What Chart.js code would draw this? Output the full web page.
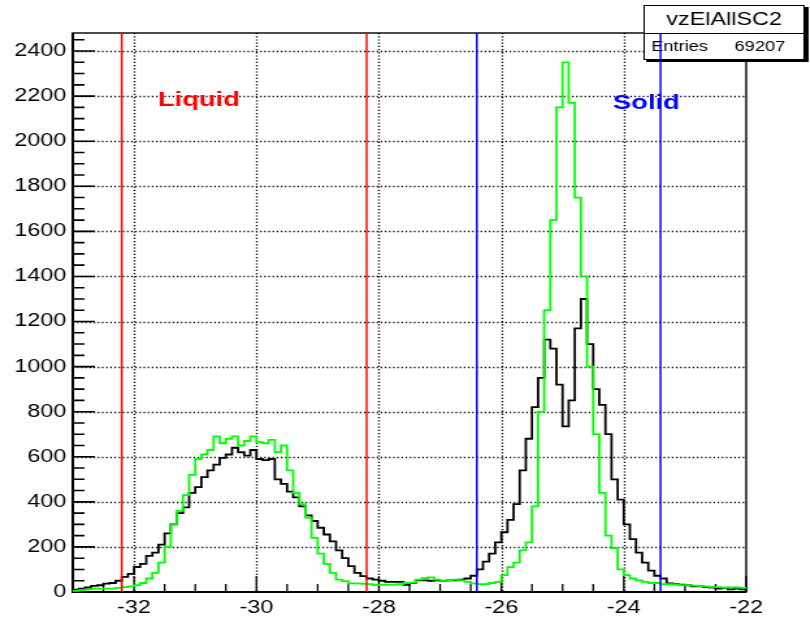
<!DOCTYPE html>
<html lang="en">
<head>
<meta charset="UTF-8">
<title>vzElAllSC2</title>
<script src="https://cdn.jsdelivr.net/npm/chart.js"></script>
<style>
    body { margin: 0; background: #fff; overflow: hidden; }
    /* the original ROOT canvas is stretched sideways, so draw it narrow and stretch it */
    #histo { display: block; transform: scaleX(1.3); transform-origin: 0 0; }
</style>
</head>
<body>
<canvas id="histo" width="623" height="620"></canvas>
<script>
    // histogram binning
    var binLow = -33.0;
    var binWidth = 0.1;

    // black histogram, one count per 0.1 bin from -33.0 to -22.0
    var blackCounts = [
        10, 15, 20, 27, 30, 37, 40, 50, 67, 80,
        111, 125, 160, 175, 210, 260, 300, 350, 375, 440,
        465, 510, 540, 565, 595, 610, 640, 620, 605, 630,
        590, 585, 590, 500, 480, 445, 420, 380, 340, 315,
        285, 255, 225, 185, 150, 115, 85, 70, 60, 55,
        50, 45, 45, 45, 32, 40, 52, 52, 50, 52,
        48, 52, 52, 55, 60, 72, 100, 135, 170, 220,
        265, 320, 390, 540, 680, 820, 950, 1120, 1080, 920,
        735, 850, 1170, 1300, 1100, 900, 830, 700, 500, 410,
        300, 235, 175, 130, 95, 72, 60, 38, 35, 33,
        30, 25, 25, 22, 20, 15, 18, 12, 15, 12
    ];

    // green histogram, same binning
    var greenCounts = [
        5, 8, 12, 15, 15, 15, 15, 18, 22, 25,
        30, 40, 60, 85, 130, 200, 300, 360, 430, 520,
        590, 610, 630, 690, 660, 680, 690, 650, 670, 690,
        665, 660, 675, 620, 650, 540, 440, 390, 330, 240,
        170, 125, 85, 55, 48, 38, 38, 36, 35, 32,
        32, 33, 33, 35, 40, 42, 55, 62, 65, 55,
        50, 52, 55, 52, 45, 38, 35, 35, 40, 45,
        75, 110, 130, 185, 220, 380, 800, 1250, 1650, 2150,
        2350, 2170, 1750, 1400, 1000, 700, 440, 250, 195, 100,
        75, 60, 52, 45, 40, 40, 35, 35, 33, 30,
        30, 28, 25, 25, 22, 22, 20, 20, 20, 18
    ];

    // cut lines
    var liquidCuts = [-32.2, -28.2];
    var solidCuts = [-26.4, -23.4];
    var regionNames = ['Liquid', 'Solid'];

    // axis labels
    var xLabels = [-32, -30, -28, -26, -24, -22];
    var yLabels = [0, 200, 400, 600, 800, 1000, 1200, 1400, 1600, 1800, 2000, 2200, 2400];

    // stats box
    var histName = 'vzElAllSC2';
    var entries = 69207;

    var xMin = -33, xMax = -22, yMax = 2480;
    var fontFamily = "'Liberation Sans', Arial, Helvetica, sans-serif";

    function histPoints(counts) {
        var pts = counts.map(function (c, i) {
            return { x: binLow + i * binWidth, y: c };
        });
        // close the last bin at its upper edge
        pts.push({ x: binLow + counts.length * binWidth, y: counts[counts.length - 1] });
        return pts;
    }

    function cutDataset(value, color) {
        return {
            data: [{ x: value, y: 0 }, { x: value, y: yMax }],
            borderColor: color,
            borderWidth: 1.5,
            pointRadius: 0,
            order: 0
        };
    }

    // frame, inward ticks, dotted grid and the stats box, all under the histograms
    var rootFrame = {
        id: 'rootFrame',
        beforeDatasetsDraw: function (chart) {
            var ctx = chart.ctx, a = chart.chartArea;
            var xs = chart.scales.x, ys = chart.scales.y;
            ctx.save();
            ctx.strokeStyle = '#000';

            // dotted grid
            ctx.lineWidth = 1.4;
            ctx.setLineDash([1.2, 2]);
            ctx.beginPath();
            xLabels.forEach(function (v) {
                if (v <= xMin || v >= xMax) return;
                var px = Math.round(xs.getPixelForValue(v)) + 0.5;
                ctx.moveTo(px, a.top); ctx.lineTo(px, a.bottom);
            });
            yLabels.forEach(function (v) {
                if (v <= 0) return;
                var py = Math.round(ys.getPixelForValue(v)) + 0.5;
                ctx.moveTo(a.left, py); ctx.lineTo(a.right, py);
            });
            ctx.stroke();
            ctx.setLineDash([]);

            // x ticks every 0.5, long every 2
            ctx.lineWidth = 1.3;
            ctx.beginPath();
            for (var i = 0; i <= 22; i++) {
                var xv = xMin + 0.5 * i;
                var px2 = xs.getPixelForValue(xv);
                var len = (i % 4 === 2) ? 16 : 8;
                ctx.moveTo(px2, a.bottom); ctx.lineTo(px2, a.bottom - len);
            }
            ctx.stroke();

            // y ticks every 50, long every 200
            ctx.lineWidth = 1.6;
            ctx.beginPath();
            for (var j = 0; j * 50 < yMax; j++) {
                var py2 = ys.getPixelForValue(j * 50);
                var len2 = (j % 4 === 0) ? 17 : 9;
                ctx.moveTo(a.left, py2); ctx.lineTo(a.left + len2, py2);
            }
            ctx.stroke();

            // frame
            ctx.lineWidth = 1.4;
            ctx.strokeRect(a.left, a.top, a.right - a.left, a.bottom - a.top);
            ctx.lineWidth = 2;
            ctx.beginPath();
            ctx.moveTo(a.left, a.top); ctx.lineTo(a.left, a.bottom); ctx.lineTo(a.right, a.bottom);
            ctx.stroke();

            // stats box with shadow
            ctx.fillStyle = '#000';
            ctx.fillRect(497, 7, 125, 55);
            ctx.fillStyle = '#fff';
            ctx.fillRect(495, 5, 124, 55);
            ctx.lineWidth = 1;
            ctx.strokeRect(495.5, 5.5, 123, 54);
            ctx.beginPath();
            ctx.moveTo(495, 33.5); ctx.lineTo(619, 33.5);
            ctx.stroke();
            ctx.fillStyle = '#000';
            ctx.textBaseline = 'middle';
            ctx.textAlign = 'center';
            ctx.font = '18px ' + fontFamily;
            ctx.fillText(histName, 557, 20);
            ctx.font = '14px ' + fontFamily;
            ctx.textAlign = 'left';
            ctx.fillText('Entries', 501, 47);
            ctx.textAlign = 'right';
            ctx.fillText(String(entries), 604, 47);
            ctx.restore();
        },
        afterDraw: function (chart) {
            var ctx = chart.ctx;
            var xs = chart.scales.x, ys = chart.scales.y;
            ctx.save();
            ctx.font = 'bold 21px ' + fontFamily;
            ctx.textAlign = 'center';
            ctx.textBaseline = 'middle';
            ctx.fillStyle = '#ff0000';
            ctx.fillText(regionNames[0], xs.getPixelForValue(-30.94), ys.getPixelForValue(2180));
            ctx.fillStyle = '#0000ff';
            ctx.fillText(regionNames[1], xs.getPixelForValue(-23.63), ys.getPixelForValue(2170));
            ctx.restore();
        }
    };

    var ctx = document.getElementById('histo').getContext('2d');

    var chart = new Chart(ctx, {
        type: 'line',
        data: {
            datasets: [
                cutDataset(liquidCuts[0], '#ff0000'),
                cutDataset(liquidCuts[1], '#ff0000'),
                cutDataset(solidCuts[0], '#0000ff'),
                cutDataset(solidCuts[1], '#0000ff'),
                {
                    data: histPoints(greenCounts),
                    borderColor: '#00ff00',
                    borderWidth: 1.8,
                    stepped: true,
                    pointRadius: 0,
                    fill: false,
                    order: 1
                },
                {
                    data: histPoints(blackCounts),
                    borderColor: '#000000',
                    borderWidth: 1.8,
                    stepped: true,
                    pointRadius: 0,
                    fill: false,
                    order: 2
                }
            ]
        },
        options: {
            responsive: false,
            animation: false,
            layout: { padding: { top: 33, right: 49, left: 0, bottom: 0 } },
            plugins: {
                legend: { display: false },
                tooltip: { enabled: false }
            },
            scales: {
                x: {
                    type: 'linear',
                    min: xMin,
                    max: xMax,
                    afterBuildTicks: function (scale) {
                        scale.ticks = xLabels.map(function (v) { return { value: v }; });
                    },
                    afterFit: function (scale) { scale.height = 28; },
                    grid: { display: false, drawTicks: false },
                    border: { display: false },
                    ticks: {
                        autoSkip: false,
                        maxRotation: 0,
                        padding: 5,
                        color: '#000',
                        font: { family: fontFamily, size: 18 },
                        callback: function (v) { return String(v); }
                    }
                },
                y: {
                    type: 'linear',
                    min: 0,
                    max: yMax,
                    afterBuildTicks: function (scale) {
                        scale.ticks = yLabels.map(function (v) { return { value: v }; });
                    },
                    afterFit: function (scale) { scale.width = 56; },
                    grid: { display: false, drawTicks: false },
                    border: { display: false },
                    ticks: {
                        autoSkip: false,
                        padding: 5,
                        color: '#000',
                        font: { family: fontFamily, size: 18 },
                        callback: function (v) { return String(v); }
                    }
                }
            }
        },
        plugins: [rootFrame]
    });
</script>
</body>
</html>
